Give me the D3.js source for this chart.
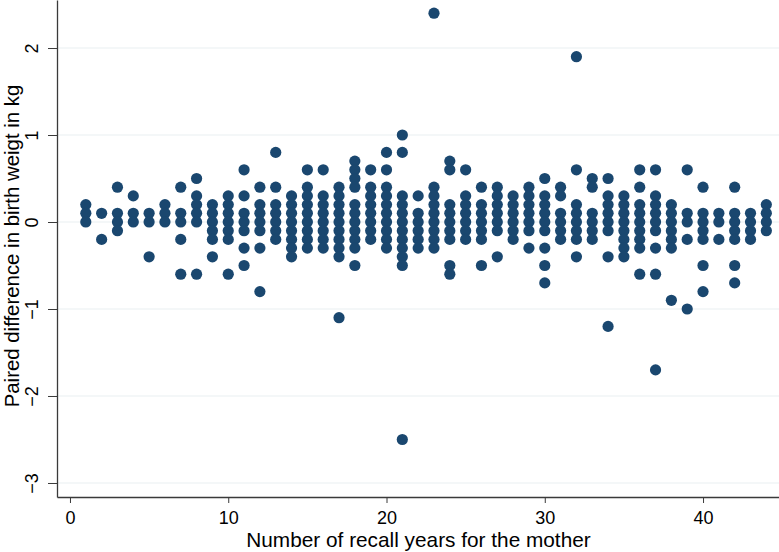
<!DOCTYPE html>
<html>
<head>
<meta charset="utf-8">
<script src="https://cdn.jsdelivr.net/npm/d3@7"></script>
<style>
  html, body { margin: 0; padding: 0; background: #fff; }
  svg { display: block; }
  text { font-family: "Liberation Sans", Arial, Helvetica, sans-serif; }
</style>
</head>
<body>
<svg id="chart" width="779" height="552"></svg>
<script>
// Recall years (x) and paired differences observed at each (y, kg)
const recallYears = [1,2,3,4,5,6,7,8,9,10,11,12,13,14,15,16,17,18,19,20,21,22,23,24,25,26,27,28,29,30,31,32,33,34,35,36,37,38,39,40,41,42,43,44];
const differences = [
  [0.2,0.1,0],
  [0.1,-0.2],
  [0.4,0.1,0,-0.1],
  [0.3,0.1,0],
  [0.1,0,-0.4],
  [0.2,0.1,0],
  [0.4,0.1,0,-0.2,-0.6],
  [0.5,0.3,0.2,0.1,0,-0.6],
  [0.2,0.1,0,-0.1,-0.2,-0.4],
  [0.3,0.2,0.1,0,-0.1,-0.2,-0.6],
  [0.6,0.3,0.1,0,-0.1,-0.3,-0.5],
  [0.4,0.2,0.1,0,-0.1,-0.3,-0.8],
  [0.8,0.4,0.2,0.1,0,-0.1,-0.2],
  [0.3,0.2,0.1,0,-0.1,-0.2,-0.3,-0.4],
  [0.6,0.4,0.3,0.2,0.1,0,-0.1,-0.2,-0.3],
  [0.6,0.3,0.2,0.1,0,-0.1,-0.2,-0.3],
  [0.4,0.3,0.2,0.1,0,-0.1,-0.2,-0.3,-0.4,-1.1],
  [0.7,0.6,0.5,0.4,0.2,0.1,0,-0.1,-0.2,-0.3,-0.5],
  [0.6,0.4,0.3,0.2,0.1,0,-0.1,-0.2],
  [0.8,0.6,0.4,0.3,0.2,0.1,0,-0.1,-0.2,-0.3],
  [1.0,0.8,0.3,0.2,0.1,0,-0.1,-0.2,-0.3,-0.4,-0.5,-2.5],
  [0.3,0.1,0,-0.1,-0.2,-0.3],
  [2.4,0.4,0.3,0.2,0.1,0,-0.1,-0.2,-0.3],
  [0.7,0.6,0.2,0.1,0,-0.1,-0.2,-0.5,-0.6],
  [0.6,0.3,0.2,0.1,0,-0.1,-0.2],
  [0.4,0.2,0.1,0,-0.1,-0.2,-0.5],
  [0.4,0.3,0.2,0.1,0,-0.1,-0.4],
  [0.3,0.2,0.1,0,-0.1,-0.2],
  [0.4,0.3,0.2,0.1,0,-0.1,-0.3],
  [0.5,0.3,0.2,0.1,0,-0.1,-0.3,-0.5,-0.7],
  [0.4,0.3,0.1,0,-0.1,-0.2],
  [1.9,0.6,0.2,0.1,0,-0.1,-0.2,-0.4],
  [0.5,0.4,0.1,0,-0.1,-0.2],
  [0.5,0.3,0.2,0.1,0,-0.1,-0.4,-1.2],
  [0.3,0.2,0.1,0,-0.1,-0.2,-0.3,-0.4],
  [0.6,0.4,0.2,0.1,0,-0.1,-0.2,-0.3,-0.6],
  [0.6,0.3,0.2,0.1,0,-0.1,-0.3,-0.6,-1.7],
  [0.2,0.1,0,-0.1,-0.2,-0.3,-0.9],
  [0.6,0.1,0,-0.2,-1.0],
  [0.4,0.1,0,-0.1,-0.2,-0.5,-0.8],
  [0.1,0,-0.2],
  [0.4,0.1,0,-0.1,-0.2,-0.5,-0.7],
  [0.1,0,-0.1,-0.2],
  [0.2,0.1,0,-0.1]
];
const xTicks = [0,10,20,30,40];
const yTicks = [-3,-2,-1,0,1,2];
const xLabel = "Number of recall years for the mother";
const yLabel = "Paired difference in birth weigt in kg";

(function () {
  const points = [];
  recallYears.forEach((yr, i) => differences[i].forEach(v => points.push({x: yr, y: v})));

  const svg = d3.select("#chart");
  const mLeft = 57, mRight = 779, mTop = 0, mBottom = 497;

  const x = d3.scaleLinear().domain([-0.82, 44.8]).range([mLeft, mRight]);
  const y = d3.scaleLinear().domain([-3.161, 2.552]).range([mBottom, mTop]);

  const axisColor = "#3a3a3a";

  // gridlines
  svg.append("g").selectAll("line").data(yTicks).join("line")
    .attr("x1", mLeft).attr("x2", mRight)
    .attr("y1", d => y(d)).attr("y2", d => y(d))
    .attr("stroke", "#eaf0f1").attr("stroke-width", 1.2);

  // points
  svg.append("g").selectAll("circle").data(points).join("circle")
    .attr("cx", d => x(d.x)).attr("cy", d => y(d.y))
    .attr("r", 5.6).attr("fill", "#1a476f");

  // x axis
  const gx = svg.append("g").attr("transform", `translate(0,${mBottom})`)
    .call(d3.axisBottom(x).tickValues(xTicks).tickFormat(d3.format("d")).tickSize(6).tickPadding(8).tickSizeOuter(0));
  gx.select(".domain").attr("stroke", axisColor).attr("stroke-width", 1.3);
  gx.selectAll(".tick line").attr("stroke", axisColor).attr("stroke-width", 1);
  gx.selectAll(".tick text").attr("font-size", 18).attr("fill", "#000")
    .attr("font-family", "'Liberation Sans', Arial, sans-serif");

  // y axis
  const gy = svg.append("g").attr("transform", `translate(${mLeft},0)`)
    .call(d3.axisLeft(y).tickValues(yTicks).tickFormat(d => d < 0 ? "\u2212" + Math.abs(d) : d).tickSize(9).tickSizeOuter(0));
  gy.select(".domain").attr("stroke", axisColor).attr("stroke-width", 1.3);
  gy.selectAll(".tick line").attr("stroke", axisColor).attr("stroke-width", 1);
  gy.selectAll(".tick text")
    .attr("font-size", 18).attr("fill", "#000")
    .attr("font-family", "'Liberation Sans', Arial, sans-serif")
    .attr("x", null).attr("dy", null)
    .attr("text-anchor", "middle")
    .attr("transform", "translate(-19,0) rotate(-90)");

  // axis titles
  svg.append("text")
    .attr("x", 418.5).attr("y", 547)
    .attr("text-anchor", "middle").attr("font-size", 20.8).attr("fill", "#000")
    .text(xLabel);

  svg.append("text")
    .attr("transform", `translate(18.5,246) rotate(-90)`)
    .attr("text-anchor", "middle").attr("font-size", 20.4).attr("fill", "#000")
    .text(yLabel);
})();
</script>
</body>
</html>
